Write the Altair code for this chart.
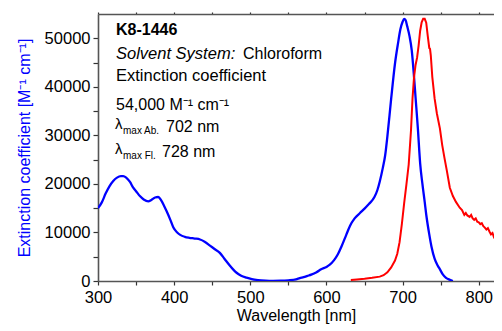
import altair as alt
import pandas as pd

# Absorption spectrum (blue)
abs_nm = [300, 305, 310, 315, 320, 325, 330, 333, 337, 342, 346, 350, 355, 360, 366, 370, 375, 379,
          383, 387, 390, 395, 399, 404, 408, 414, 420, 427, 434, 440, 447, 453, 460, 466, 473, 478,
          482, 488, 495, 502, 510, 520, 530, 540, 550, 560, 565, 570, 575, 580, 587, 593, 600, 604,
          610, 615, 620, 626, 631, 637, 644, 650, 656, 660, 663, 667, 670, 674, 677, 680, 685, 690,
          694, 697, 700, 702, 704, 706, 709, 712, 715, 717, 720, 723, 726, 729, 731, 735, 738, 742,
          746, 749, 753, 757, 762, 766]
abs_val = [15000, 16200, 18000, 19500, 20600, 21300, 21600, 21600, 21300, 20400, 19300, 18500, 17500,
           16800, 16400, 16700, 17200, 17300, 16600, 15400, 14400, 12600, 11000, 10000, 9500, 9100,
           8900, 8750, 8550, 8100, 7300, 6600, 5800, 4600, 3200, 2300, 1700, 1100, 700, 400, 200, 80,
           40, 60, 150, 350, 600, 800, 1050, 1300, 1800, 2400, 2900, 3300, 4300, 5500, 7200, 9500,
           11400, 12900, 14000, 14900, 15900, 16600, 17300, 18800, 20500, 23300, 25800, 29800, 37600,
           44800, 49000, 51800, 53400, 54000, 53700, 52500, 50500, 47500, 42000, 37800, 31500, 24300,
           20000, 16300, 13700, 9600, 7000, 4600, 3200, 2400, 1300, 650, 250, 0]

# Fluorescence spectrum (red), scaled to the absorption maximum
fl_nm = [632, 640, 650, 660, 670, 675, 680, 685, 690, 693, 696, 699, 702, 705, 708, 711, 713, 715,
         717, 719, 721, 723, 725, 727, 729, 731, 733, 735, 736, 737, 739, 742, 745, 749, 752, 755,
         758, 762, 766, 770, 775, 778, 781, 783, 785, 788, 790, 792, 794, 796, 798, 800, 802, 804,
         806, 808, 810, 812, 814, 816, 818, 820, 822, 824, 826, 828, 830]
fl_val = [200, 300, 450, 650, 900, 1200, 1800, 2800, 4200, 5600, 8000, 11700, 16000, 19900, 24000,
          31000, 37600, 42000, 44500, 46000, 48500, 51500, 53300, 54000, 54000, 53200, 50500, 48000,
          47800, 46500, 42000, 37600, 34500, 31400, 28000, 25300, 22800, 19200, 17500, 16300, 15100,
          14600, 13600, 14000, 13500, 13200, 13600, 12900, 12600, 12900, 12200, 12100, 11700, 11900,
          11300, 11000, 10600, 10900, 10200, 9600, 9900, 9000, 8500, 8800, 7900, 7800, 7400]

x_ticks = [300, 350, 400, 450, 500, 550, 600, 650, 700, 750, 800]
y_ticks = [0, 5000, 10000, 15000, 20000, 25000, 30000, 35000, 40000, 45000, 50000]

FONT = "Arial"

abs_df = pd.DataFrame({"nm": abs_nm, "val": abs_val})
fl_df = pd.DataFrame({"nm": fl_nm, "val": fl_val})

xscale = alt.Scale(domain=[300, 820], nice=False, zero=False)
yscale = alt.Scale(domain=[0, 55000], nice=False)

yaxis = alt.Axis(
    values=y_ticks,
    labelExpr="datum.value % 10000 === 0 ? datum.value : ''",
    title="Extinction coefficient [M⁻¹ cm⁻¹]",
    titleColor="#0000FF",
    titleFontSize=16,
    titleFontWeight="normal",
    titlePadding=12,
    labelFontSize=16.5,
    labelPadding=3,
    tickSize=5,
    grid=False,
)

blue = alt.Chart(abs_df).mark_line(color="#0000FF", strokeWidth=2.3, clip=True, interpolate="monotone").encode(
    x=alt.X("nm:Q", scale=xscale, axis=alt.Axis(
        values=x_ticks,
        labelExpr="datum.value % 100 === 0 ? datum.value : ''",
        title="Wavelength [nm]",
        titleFontSize=16,
        titleFontWeight="normal",
        titlePadding=2,
        labelFontSize=16.5,
        labelPadding=4,
        tickSize=4,
        grid=False,
        labelFlush=False,
    )),
    y=alt.Y("val:Q", scale=yscale, axis=yaxis),
)

red = alt.Chart(fl_df).mark_line(color="#FF0000", strokeWidth=2.0, clip=True).encode(
    x=alt.X("nm:Q", scale=xscale, axis=alt.Axis(
        orient="top", values=x_ticks, labels=False, title=None, tickSize=2, grid=False,
    )),
    y=alt.Y("val:Q", scale=yscale, axis=yaxis),
)


def label(text, px, py, size=16, weight="normal", style="normal"):
    return alt.Chart(pd.DataFrame({"t": [text]})).mark_text(
        align="left", baseline="alphabetic", fontSize=size, fontWeight=weight,
        fontStyle=style, font=FONT, color="black",
    ).encode(text="t:N", x=alt.value(px), y=alt.value(py))


texts = [
    label("K8-1446", 18, 21, 16, weight="bold"),
    label("Solvent System:", 18, 45, 16.5, style="italic"),
    label("Chloroform", 145, 45, 16),
    label("Extinction coefficient", 18, 67, 16.5),
    label("54,000 M⁻¹ cm⁻¹", 18, 96, 16),
    label("λ", 17, 115, 15),
    label("max Ab.", 25, 120, 10),
    label("702 nm", 68, 118, 16),
    label("λ", 17, 140, 15),
    label("max Fl.", 25, 145, 10),
    label("728 nm", 64, 143, 16),
]

chart = alt.layer(blue, red, *texts).resolve_axis(x="independent").properties(
    width=396, height=267,
    autosize=alt.AutoSizeParams(type="none"),
    padding={"left": 90, "top": 6, "right": 0, "bottom": 46},
).configure(font=FONT).configure_view(stroke=None).configure_axis(
    domainColor="#555555", domainWidth=1.6, tickColor="#333333", tickWidth=1.2,
    labelColor="black", titleColor="black", labelFont=FONT, titleFont=FONT,
).configure_axisLeft(titleColor="#0000FF")

chart.save("out.html", embed_options={"renderer": "svg", "actions": False})
